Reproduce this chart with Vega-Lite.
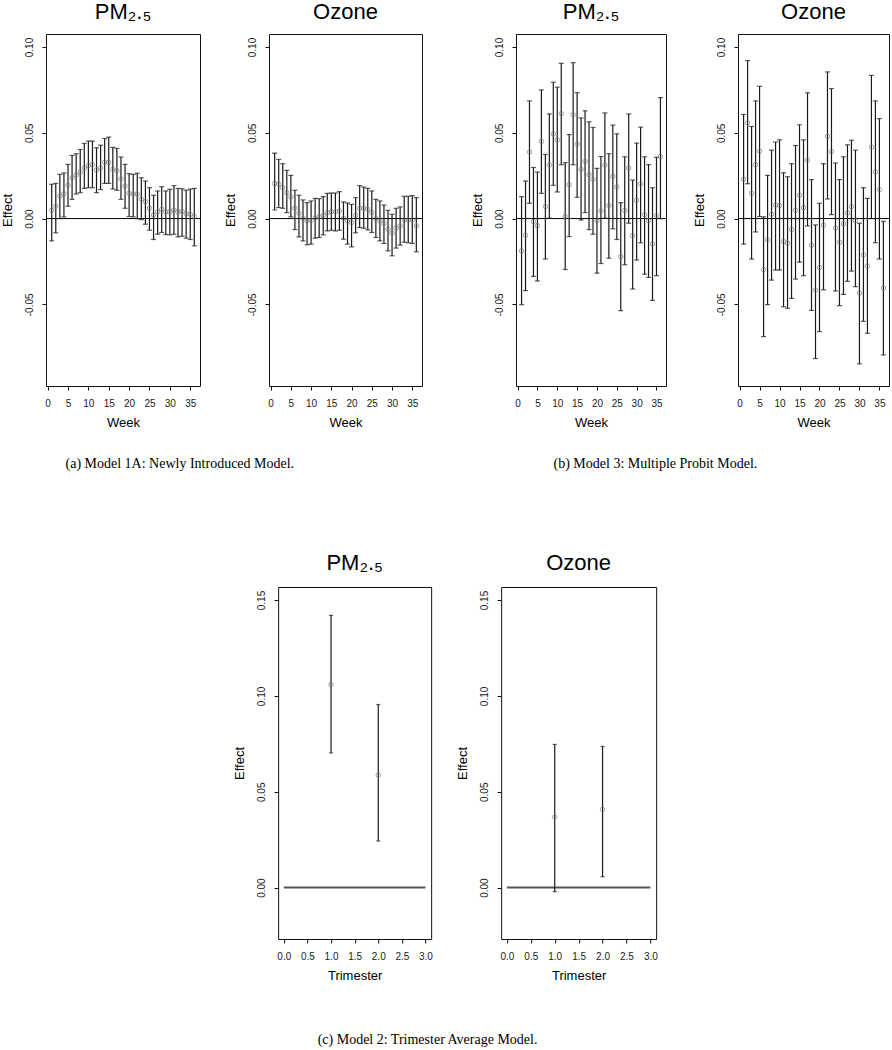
{
  "$schema": "https://vega.github.io/schema/vega-lite/v6.json",
  "background": "white",
  "padding": {"left": 0, "top": 0, "right": 0, "bottom": 0},
  "config": {
    "view": {"stroke": "#111", "strokeWidth": 1},
    "font": "Liberation Sans",
    "axis": {"grid": false, "domain": false, "ticks": true, "tickColor": "#111", "tickSize": 4, "tickWidth": 1,
      "labelFont": "Liberation Sans", "labelFontSize": 10, "labelColor": "#1a1a1a", "labelFlush": false, "labelOverlap": false,
      "titleFont": "Liberation Sans", "titleFontSize": 13, "titleFontWeight": "normal", "titleColor": "#000"},
    "axisY": {"labelAngle": -90, "labelAlign": "center", "labelBaseline": "bottom", "labelPadding": 8, "titlePadding": 10},
    "axisX": {"labelAngle": 0, "labelPadding": 8, "titlePadding": 8},
    "title": {"font": "Liberation Sans", "fontSize": 22, "fontWeight": "normal", "color": "#000", "anchor": "middle", "offset": 10}
  },
  "datasets": {
    "a_pm": [
      {"w":1,"est":0.0048,"lo":-0.013,"hi":0.020},{"w":2,"est":0.0072,"lo":-0.0083,"hi":0.0205},{"w":3,"est":0.0132,"lo":0.0,"hi":0.0258},
      {"w":4,"est":0.0145,"lo":0.001,"hi":0.0266},{"w":5,"est":0.0194,"lo":0.0072,"hi":0.0316},{"w":6,"est":0.0238,"lo":0.0112,"hi":0.0368},
      {"w":7,"est":0.0254,"lo":0.0143,"hi":0.0378},{"w":8,"est":0.027,"lo":0.0151,"hi":0.0403},{"w":9,"est":0.0295,"lo":0.0176,"hi":0.0438},
      {"w":10,"est":0.0308,"lo":0.018,"hi":0.0452},{"w":11,"est":0.0314,"lo":0.018,"hi":0.0452},{"w":12,"est":0.0283,"lo":0.0151,"hi":0.0413},
      {"w":13,"est":0.0295,"lo":0.0169,"hi":0.0428},{"w":14,"est":0.0328,"lo":0.0205,"hi":0.0467},{"w":15,"est":0.0328,"lo":0.0205,"hi":0.0475},
      {"w":16,"est":0.0287,"lo":0.0172,"hi":0.0415},{"w":17,"est":0.0279,"lo":0.0165,"hi":0.0409},{"w":18,"est":0.0231,"lo":0.0112,"hi":0.0359},
      {"w":19,"est":0.019,"lo":0.006,"hi":0.0316},{"w":20,"est":0.0147,"lo":0.0012,"hi":0.0262},{"w":21,"est":0.0143,"lo":0.001,"hi":0.0258},
      {"w":22,"est":0.0143,"lo":0.0,"hi":0.0264},{"w":23,"est":0.0114,"lo":-0.0006,"hi":0.0238},{"w":24,"est":0.0099,"lo":-0.0033,"hi":0.0219},
      {"w":25,"est":0.006,"lo":-0.0068,"hi":0.018},{"w":26,"est":0.0021,"lo":-0.0122,"hi":0.0136},{"w":27,"est":0.0039,"lo":-0.0091,"hi":0.0161},
      {"w":28,"est":0.0054,"lo":-0.0081,"hi":0.0186},{"w":29,"est":0.0039,"lo":-0.0093,"hi":0.0161},{"w":30,"est":0.0039,"lo":-0.0095,"hi":0.0171},
      {"w":31,"est":0.005,"lo":-0.0091,"hi":0.0192},{"w":32,"est":0.0039,"lo":-0.0107,"hi":0.0176},{"w":33,"est":0.0043,"lo":-0.0103,"hi":0.0174},
      {"w":34,"est":0.0029,"lo":-0.0114,"hi":0.0165},{"w":35,"est":0.0025,"lo":-0.0122,"hi":0.0172},{"w":36,"est":0.0012,"lo":-0.0159,"hi":0.0176}
    ],
    "a_oz": [
      {"w":1,"est":0.0205,"lo":0.005,"hi":0.0382},{"w":2,"est":0.02,"lo":0.0064,"hi":0.0345},{"w":3,"est":0.018,"lo":0.006,"hi":0.032},
      {"w":4,"est":0.0151,"lo":0.0035,"hi":0.0281},{"w":5,"est":0.0126,"lo":0.001,"hi":0.0252},{"w":6,"est":0.006,"lo":-0.0064,"hi":0.0165},
      {"w":7,"est":0.0031,"lo":-0.0107,"hi":0.0136},{"w":8,"est":0.0002,"lo":-0.013,"hi":0.0109},{"w":9,"est":-0.0014,"lo":-0.0153,"hi":0.0093},
      {"w":10,"est":-0.001,"lo":-0.0149,"hi":0.0103},{"w":11,"est":0.0004,"lo":-0.0114,"hi":0.0118},{"w":12,"est":0.001,"lo":-0.011,"hi":0.0116},
      {"w":13,"est":0.0019,"lo":-0.0095,"hi":0.0128},{"w":14,"est":0.0033,"lo":-0.0072,"hi":0.0147},{"w":15,"est":0.0041,"lo":-0.0068,"hi":0.0149},
      {"w":16,"est":0.0039,"lo":-0.0072,"hi":0.0149},{"w":17,"est":0.0045,"lo":-0.0068,"hi":0.0157},{"w":18,"est":0.0002,"lo":-0.012,"hi":0.0097},
      {"w":19,"est":-0.0014,"lo":-0.0149,"hi":0.0091},{"w":20,"est":-0.0023,"lo":-0.0165,"hi":0.0083},{"w":21,"est":0.0019,"lo":-0.0083,"hi":0.0122},
      {"w":22,"est":0.006,"lo":-0.0052,"hi":0.0192},{"w":23,"est":0.0062,"lo":-0.0056,"hi":0.0184},{"w":24,"est":0.0054,"lo":-0.0066,"hi":0.0176},
      {"w":25,"est":0.0035,"lo":-0.0081,"hi":0.0161},{"w":26,"est":0.0,"lo":-0.011,"hi":0.0112},{"w":27,"est":-0.0014,"lo":-0.013,"hi":0.0103},
      {"w":28,"est":-0.0029,"lo":-0.0145,"hi":0.0079},{"w":29,"est":-0.0062,"lo":-0.0188,"hi":0.0048},{"w":30,"est":-0.0085,"lo":-0.0217,"hi":0.0025},
      {"w":31,"est":-0.0056,"lo":-0.0172,"hi":0.006},{"w":32,"est":-0.0043,"lo":-0.0155,"hi":0.0068},{"w":33,"est":-0.0008,"lo":-0.0138,"hi":0.013},
      {"w":34,"est":-0.0008,"lo":-0.0141,"hi":0.013},{"w":35,"est":-0.0008,"lo":-0.0145,"hi":0.0134},{"w":36,"est":-0.0043,"lo":-0.0194,"hi":0.0122}
    ],
    "b_pm": [
      {"w":1,"est":-0.0188,"lo":-0.0502,"hi":0.0128},{"w":2,"est":-0.0097,"lo":-0.042,"hi":0.0219},{"w":3,"est":0.0388,"lo":0.0089,"hi":0.0686},
      {"w":4,"est":-0.0017,"lo":-0.0337,"hi":0.0298},{"w":5,"est":-0.0041,"lo":-0.0364,"hi":0.0271},{"w":6,"est":0.045,"lo":0.0147,"hi":0.075},
      {"w":7,"est":0.007,"lo":-0.0236,"hi":0.0374},{"w":8,"est":0.0312,"lo":0.0002,"hi":0.061},{"w":9,"est":0.0494,"lo":0.0194,"hi":0.0795},
      {"w":10,"est":0.0459,"lo":0.0155,"hi":0.0766},{"w":11,"est":0.0612,"lo":0.0314,"hi":0.0905},{"w":12,"est":0.0012,"lo":-0.0297,"hi":0.0326},
      {"w":13,"est":0.0198,"lo":-0.0105,"hi":0.049},{"w":14,"est":0.0605,"lo":0.0314,"hi":0.0909},{"w":15,"est":0.0434,"lo":0.0124,"hi":0.0734},
      {"w":16,"est":0.0287,"lo":-0.0008,"hi":0.0587},{"w":17,"est":0.0333,"lo":0.0035,"hi":0.0628},{"w":18,"est":0.0256,"lo":-0.0064,"hi":0.0564},
      {"w":19,"est":0.0229,"lo":-0.0091,"hi":0.0531},{"w":20,"est":-0.0012,"lo":-0.0318,"hi":0.0293},{"w":21,"est":0.0045,"lo":-0.0262,"hi":0.0362},
      {"w":22,"est":0.0312,"lo":0.0002,"hi":0.0616},{"w":23,"est":0.0076,"lo":-0.0231,"hi":0.0378},{"w":24,"est":0.0246,"lo":-0.006,"hi":0.0545},
      {"w":25,"est":0.0184,"lo":-0.0122,"hi":0.0494},{"w":26,"est":-0.0223,"lo":-0.0537,"hi":0.0093},{"w":27,"est":0.0048,"lo":-0.0269,"hi":0.036},
      {"w":28,"est":0.0295,"lo":-0.0027,"hi":0.061},{"w":29,"est":-0.0099,"lo":-0.0411,"hi":0.0225},{"w":30,"est":0.0107,"lo":-0.0242,"hi":0.044},
      {"w":31,"est":0.0202,"lo":-0.0141,"hi":0.0533},{"w":32,"est":0.0023,"lo":-0.0324,"hi":0.036},{"w":33,"est":-0.0012,"lo":-0.0343,"hi":0.0314},
      {"w":34,"est":-0.0147,"lo":-0.0477,"hi":0.018},{"w":35,"est":0.0016,"lo":-0.0333,"hi":0.0357},{"w":36,"est":0.0362,"lo":0.0,"hi":0.0705}
    ],
    "b_oz": [
      {"w":1,"est":0.0229,"lo":-0.0149,"hi":0.0607},{"w":2,"est":0.0558,"lo":0.0203,"hi":0.0921},{"w":3,"est":0.0147,"lo":-0.0236,"hi":0.0537},
      {"w":4,"est":0.0314,"lo":-0.0078,"hi":0.0686},{"w":5,"est":0.0393,"lo":0.0012,"hi":0.0771},{"w":6,"est":-0.0297,"lo":-0.0688,"hi":0.001},
      {"w":7,"est":-0.0124,"lo":-0.0502,"hi":0.0252},{"w":8,"est":0.0025,"lo":-0.0359,"hi":0.0399},{"w":9,"est":0.0079,"lo":-0.03,"hi":0.0446},
      {"w":10,"est":0.0076,"lo":-0.03,"hi":0.0459},{"w":11,"est":-0.0134,"lo":-0.0514,"hi":0.0267},{"w":12,"est":-0.0143,"lo":-0.0523,"hi":0.0244},
      {"w":13,"est":-0.0064,"lo":-0.0465,"hi":0.032},{"w":14,"est":0.0048,"lo":-0.0353,"hi":0.0426},{"w":15,"est":0.0136,"lo":-0.0254,"hi":0.0547},
      {"w":16,"est":0.0064,"lo":-0.0333,"hi":0.0459},{"w":17,"est":0.0341,"lo":-0.0043,"hi":0.0733},{"w":18,"est":-0.0155,"lo":-0.0535,"hi":0.0227},
      {"w":19,"est":-0.0417,"lo":-0.0816,"hi":-0.0037},{"w":20,"est":-0.0285,"lo":-0.0659,"hi":0.0089},{"w":21,"est":-0.0039,"lo":-0.0415,"hi":0.032},
      {"w":22,"est":0.0479,"lo":0.0114,"hi":0.0855},{"w":23,"est":0.039,"lo":0.0023,"hi":0.0758},{"w":24,"est":-0.0056,"lo":-0.0422,"hi":0.0324},
      {"w":25,"est":-0.0138,"lo":-0.0508,"hi":0.0227},{"w":26,"est":-0.0031,"lo":-0.0442,"hi":0.036},{"w":27,"est":0.0033,"lo":-0.0366,"hi":0.043},
      {"w":28,"est":0.007,"lo":-0.0306,"hi":0.0457},{"w":29,"est":-0.0012,"lo":-0.0397,"hi":0.0399},{"w":30,"est":-0.0434,"lo":-0.0847,"hi":-0.0027},
      {"w":31,"est":-0.0211,"lo":-0.0599,"hi":0.018},{"w":32,"est":-0.0277,"lo":-0.0669,"hi":0.0118},{"w":33,"est":0.0417,"lo":0.0,"hi":0.0835},
      {"w":34,"est":0.0273,"lo":-0.0141,"hi":0.0686},{"w":35,"est":0.0169,"lo":-0.0236,"hi":0.0583},{"w":36,"est":-0.0405,"lo":-0.0795,"hi":-0.0016}
    ],
    "c_pm": [
      {"t":1,"est":0.1059,"lo":0.0703,"hi":0.142},{"t":2,"est":0.0587,"lo":0.0243,"hi":0.0955}
    ],
    "c_oz": [
      {"t":1,"est":0.0368,"lo":-0.0021,"hi":0.0747},{"t":2,"est":0.0408,"lo":0.0057,"hi":0.0736}
    ],
    "zero_top": [{"h":0}],
    "zero_bot": [{"t0":0,"t1":3,"h":0}]
  },
  "vconcat": [
    {
      "hconcat": [
        {
          "title": {"text": "(a) Model 1A: Newly Introduced Model.", "orient": "bottom", "anchor": "start", "font": "Liberation Serif", "fontSize": 14, "offset": 27, "dx": 65},
          "spacing": 22,
          "hconcat": [
            {
              "width": 154, "height": 352,
              "title": {"text": "PM₂.₅"},
              "data": {"name": "a_pm"},
              "layer": [
                {"data": {"name": "zero_top"}, "mark": {"type": "rule", "color": "#000", "strokeWidth": 1},
                 "encoding": {"y": {"field": "h", "type": "quantitative", "scale": {"domain": [-0.0976, 0.1076], "nice": false, "zero": false}, "axis": {"title": "Effect", "values": [-0.05, 0, 0.05, 0.1], "labelExpr": "replace(format(datum.value,'.2f'),'−','-')"}}}},
                {"mark": {"type": "errorbar", "ticks": true, "size": 5, "thickness": 1.2, "color": "#1a1a1a"},
                 "encoding": {"x": {"field": "w", "type": "quantitative", "scale": {"domain": [-0.4, 37.4], "nice": false, "zero": false}, "axis": {"title": "Week", "values": [0,5,10,15,20,25,30,35]}},
                   "y": {"field": "lo", "type": "quantitative", "scale": {"domain": [-0.0976, 0.1076], "nice": false, "zero": false}, "axis": {"title": "Effect", "values": [-0.05, 0, 0.05, 0.1], "labelExpr": "replace(format(datum.value,'.2f'),'−','-')"}},
                   "y2": {"field": "hi"}}},
                {"mark": {"type": "point", "shape": "circle", "filled": false, "color": "#6e6e6e", "size": 20, "strokeWidth": 0.9},
                 "encoding": {"x": {"field": "w", "type": "quantitative", "scale": {"domain": [-0.4, 37.4], "nice": false, "zero": false}, "axis": {"title": "Week", "values": [0,5,10,15,20,25,30,35]}},
                   "y": {"field": "est", "type": "quantitative", "scale": {"domain": [-0.0976, 0.1076], "nice": false, "zero": false}, "axis": {"title": "Effect", "values": [-0.05, 0, 0.05, 0.1], "labelExpr": "replace(format(datum.value,'.2f'),'−','-')"}}}}
              ]
            },
            {
              "width": 153, "height": 352,
              "title": {"text": "Ozone"},
              "data": {"name": "a_oz"},
              "layer": [
                {"data": {"name": "zero_top"}, "mark": {"type": "rule", "color": "#000", "strokeWidth": 1},
                 "encoding": {"y": {"field": "h", "type": "quantitative", "scale": {"domain": [-0.0976, 0.1076], "nice": false, "zero": false}, "axis": {"title": "Effect", "values": [-0.05, 0, 0.05, 0.1], "labelExpr": "replace(format(datum.value,'.2f'),'−','-')"}}}},
                {"mark": {"type": "errorbar", "ticks": true, "size": 5, "thickness": 1.2, "color": "#1a1a1a"},
                 "encoding": {"x": {"field": "w", "type": "quantitative", "scale": {"domain": [-0.4, 37.4], "nice": false, "zero": false}, "axis": {"title": "Week", "values": [0,5,10,15,20,25,30,35]}},
                   "y": {"field": "lo", "type": "quantitative", "scale": {"domain": [-0.0976, 0.1076], "nice": false, "zero": false}, "axis": {"title": "Effect", "values": [-0.05, 0, 0.05, 0.1], "labelExpr": "replace(format(datum.value,'.2f'),'−','-')"}},
                   "y2": {"field": "hi"}}},
                {"mark": {"type": "point", "shape": "circle", "filled": false, "color": "#6e6e6e", "size": 20, "strokeWidth": 0.9},
                 "encoding": {"x": {"field": "w", "type": "quantitative", "scale": {"domain": [-0.4, 37.4], "nice": false, "zero": false}, "axis": {"title": "Week", "values": [0,5,10,15,20,25,30,35]}},
                   "y": {"field": "est", "type": "quantitative", "scale": {"domain": [-0.0976, 0.1076], "nice": false, "zero": false}, "axis": {"title": "Effect", "values": [-0.05, 0, 0.05, 0.1], "labelExpr": "replace(format(datum.value,'.2f'),'−','-')"}}}}
              ]
            }
          ]
        },
        {
          "title": {"text": "(b) Model 3: Multiple Probit Model.", "orient": "bottom", "anchor": "start", "font": "Liberation Serif", "fontSize": 14, "offset": 27, "dx": 83},
          "spacing": 25,
          "hconcat": [
            {
              "width": 150, "height": 352,
              "title": {"text": "PM₂.₅"},
              "data": {"name": "b_pm"},
              "layer": [
                {"data": {"name": "zero_top"}, "mark": {"type": "rule", "color": "#000", "strokeWidth": 1},
                 "encoding": {"y": {"field": "h", "type": "quantitative", "scale": {"domain": [-0.0976, 0.1076], "nice": false, "zero": false}, "axis": {"title": "Effect", "values": [-0.05, 0, 0.05, 0.1], "labelExpr": "replace(format(datum.value,'.2f'),'−','-')"}}}},
                {"mark": {"type": "errorbar", "ticks": true, "size": 5, "thickness": 1.2, "color": "#1a1a1a"},
                 "encoding": {"x": {"field": "w", "type": "quantitative", "scale": {"domain": [-0.4, 37.4], "nice": false, "zero": false}, "axis": {"title": "Week", "values": [0,5,10,15,20,25,30,35]}},
                   "y": {"field": "lo", "type": "quantitative", "scale": {"domain": [-0.0976, 0.1076], "nice": false, "zero": false}, "axis": {"title": "Effect", "values": [-0.05, 0, 0.05, 0.1], "labelExpr": "replace(format(datum.value,'.2f'),'−','-')"}},
                   "y2": {"field": "hi"}}},
                {"mark": {"type": "point", "shape": "circle", "filled": false, "color": "#6e6e6e", "size": 20, "strokeWidth": 0.9},
                 "encoding": {"x": {"field": "w", "type": "quantitative", "scale": {"domain": [-0.4, 37.4], "nice": false, "zero": false}, "axis": {"title": "Week", "values": [0,5,10,15,20,25,30,35]}},
                   "y": {"field": "est", "type": "quantitative", "scale": {"domain": [-0.0976, 0.1076], "nice": false, "zero": false}, "axis": {"title": "Effect", "values": [-0.05, 0, 0.05, 0.1], "labelExpr": "replace(format(datum.value,'.2f'),'−','-')"}}}}
              ]
            },
            {
              "width": 151, "height": 352,
              "title": {"text": "Ozone"},
              "data": {"name": "b_oz"},
              "layer": [
                {"data": {"name": "zero_top"}, "mark": {"type": "rule", "color": "#000", "strokeWidth": 1},
                 "encoding": {"y": {"field": "h", "type": "quantitative", "scale": {"domain": [-0.0976, 0.1076], "nice": false, "zero": false}, "axis": {"title": "Effect", "values": [-0.05, 0, 0.05, 0.1], "labelExpr": "replace(format(datum.value,'.2f'),'−','-')"}}}},
                {"mark": {"type": "errorbar", "ticks": true, "size": 5, "thickness": 1.2, "color": "#1a1a1a"},
                 "encoding": {"x": {"field": "w", "type": "quantitative", "scale": {"domain": [-0.4, 37.4], "nice": false, "zero": false}, "axis": {"title": "Week", "values": [0,5,10,15,20,25,30,35]}},
                   "y": {"field": "lo", "type": "quantitative", "scale": {"domain": [-0.0976, 0.1076], "nice": false, "zero": false}, "axis": {"title": "Effect", "values": [-0.05, 0, 0.05, 0.1], "labelExpr": "replace(format(datum.value,'.2f'),'−','-')"}},
                   "y2": {"field": "hi"}}},
                {"mark": {"type": "point", "shape": "circle", "filled": false, "color": "#6e6e6e", "size": 20, "strokeWidth": 0.9},
                 "encoding": {"x": {"field": "w", "type": "quantitative", "scale": {"domain": [-0.4, 37.4], "nice": false, "zero": false}, "axis": {"title": "Week", "values": [0,5,10,15,20,25,30,35]}},
                   "y": {"field": "est", "type": "quantitative", "scale": {"domain": [-0.0976, 0.1076], "nice": false, "zero": false}, "axis": {"title": "Effect", "values": [-0.05, 0, 0.05, 0.1], "labelExpr": "replace(format(datum.value,'.2f'),'−','-')"}}}}
              ]
            }
          ]
        }
      ],
      "spacing": 47
    },
    {
      "title": {"text": "(c) Model 2: Trimester Average Model.", "orient": "bottom", "anchor": "start", "font": "Liberation Serif", "fontSize": 14, "offset": 50, "dx": 85},
      "spacing": 22,
      "hconcat": [
        {
          "width": 153, "height": 352,
          "title": {"text": "PM₂.₅", "offset": 12},
          "data": {"name": "c_pm"},
          "layer": [
            {"data": {"name": "zero_bot"}, "mark": {"type": "rule", "color": "#555", "strokeWidth": 2},
             "encoding": {"x": {"field": "t0", "type": "quantitative", "scale": {"domain": [-0.12, 3.12], "nice": false, "zero": false}, "axis": {"title": "Trimester", "values": [0,0.5,1,1.5,2,2.5,3], "format": ".1f"}},
               "x2": {"field": "t1"},
               "y": {"field": "h", "type": "quantitative", "scale": {"domain": [-0.0268, 0.1568], "nice": false, "zero": false}, "axis": {"title": "Effect", "values": [0, 0.05, 0.1, 0.15], "format": ".2f"}}}},
            {"mark": {"type": "errorbar", "ticks": true, "size": 4, "thickness": 1.2, "color": "#1a1a1a"},
             "encoding": {"x": {"field": "t", "type": "quantitative", "scale": {"domain": [-0.12, 3.12], "nice": false, "zero": false}, "axis": {"title": "Trimester", "values": [0,0.5,1,1.5,2,2.5,3], "format": ".1f"}},
               "y": {"field": "lo", "type": "quantitative", "scale": {"domain": [-0.0268, 0.1568], "nice": false, "zero": false}, "axis": {"title": "Effect", "values": [0, 0.05, 0.1, 0.15], "format": ".2f"}},
               "y2": {"field": "hi"}}},
            {"mark": {"type": "point", "shape": "circle", "filled": false, "color": "#6e6e6e", "size": 20, "strokeWidth": 0.9},
             "encoding": {"x": {"field": "t", "type": "quantitative", "scale": {"domain": [-0.12, 3.12], "nice": false, "zero": false}, "axis": {"title": "Trimester", "values": [0,0.5,1,1.5,2,2.5,3], "format": ".1f"}},
               "y": {"field": "est", "type": "quantitative", "scale": {"domain": [-0.0268, 0.1568], "nice": false, "zero": false}, "axis": {"title": "Effect", "values": [0, 0.05, 0.1, 0.15], "format": ".2f"}}}}
          ]
        },
        {
          "width": 155, "height": 352,
          "title": {"text": "Ozone", "offset": 12},
          "data": {"name": "c_oz"},
          "layer": [
            {"data": {"name": "zero_bot"}, "mark": {"type": "rule", "color": "#555", "strokeWidth": 2},
             "encoding": {"x": {"field": "t0", "type": "quantitative", "scale": {"domain": [-0.12, 3.12], "nice": false, "zero": false}, "axis": {"title": "Trimester", "values": [0,0.5,1,1.5,2,2.5,3], "format": ".1f"}},
               "x2": {"field": "t1"},
               "y": {"field": "h", "type": "quantitative", "scale": {"domain": [-0.0268, 0.1568], "nice": false, "zero": false}, "axis": {"title": "Effect", "values": [0, 0.05, 0.1, 0.15], "format": ".2f"}}}},
            {"mark": {"type": "errorbar", "ticks": true, "size": 4, "thickness": 1.2, "color": "#1a1a1a"},
             "encoding": {"x": {"field": "t", "type": "quantitative", "scale": {"domain": [-0.12, 3.12], "nice": false, "zero": false}, "axis": {"title": "Trimester", "values": [0,0.5,1,1.5,2,2.5,3], "format": ".1f"}},
               "y": {"field": "lo", "type": "quantitative", "scale": {"domain": [-0.0268, 0.1568], "nice": false, "zero": false}, "axis": {"title": "Effect", "values": [0, 0.05, 0.1, 0.15], "format": ".2f"}},
               "y2": {"field": "hi"}}},
            {"mark": {"type": "point", "shape": "circle", "filled": false, "color": "#6e6e6e", "size": 20, "strokeWidth": 0.9},
             "encoding": {"x": {"field": "t", "type": "quantitative", "scale": {"domain": [-0.12, 3.12], "nice": false, "zero": false}, "axis": {"title": "Trimester", "values": [0,0.5,1,1.5,2,2.5,3], "format": ".1f"}},
               "y": {"field": "est", "type": "quantitative", "scale": {"domain": [-0.0268, 0.1568], "nice": false, "zero": false}, "axis": {"title": "Effect", "values": [0, 0.05, 0.1, 0.15], "format": ".2f"}}}}
          ]
        }
      ]
    }
  ],
  "spacing": 80,
  "center": true
}
